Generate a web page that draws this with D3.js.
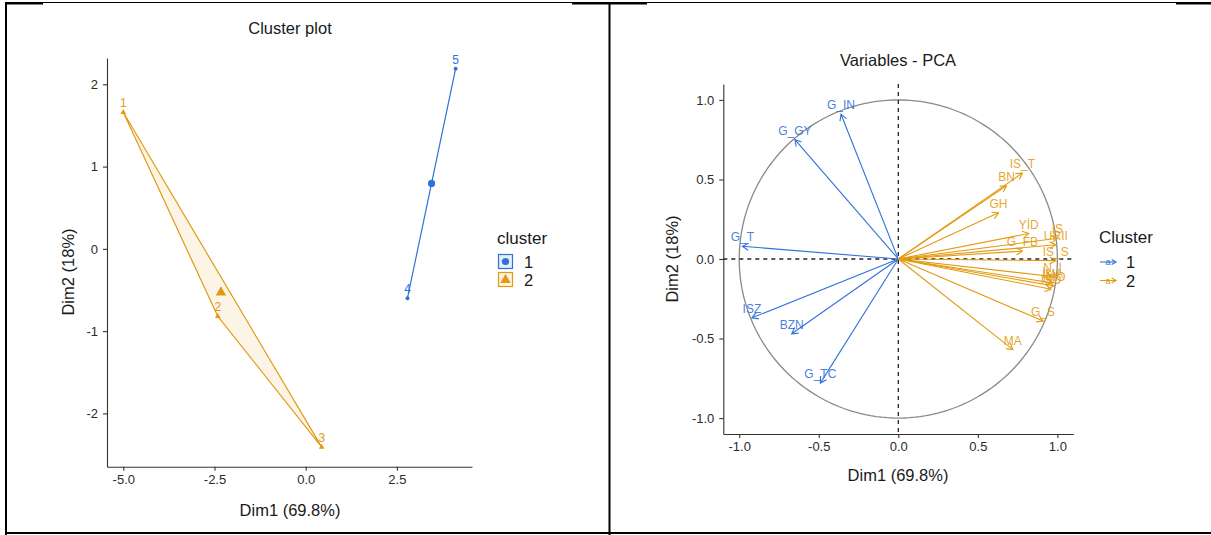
<!DOCTYPE html>
<html>
<head>
<meta charset="utf-8">
<script src="https://cdn.jsdelivr.net/npm/d3@7"></script>
<style>
  html, body { margin: 0; padding: 0; background: #fff; }
  svg { display: block; }
  text { font-family: "Liberation Sans", Arial, Helvetica, sans-serif; }
</style>
</head>
<body>
<svg id="fig" width="1211" height="535"></svg>
<script>
// ---- Cluster plot: individuals on the first two principal components ----
const obsIds     = ["1", "2", "3", "4", "5"];
const obsDim1    = [-5.00, -2.41, 0.44, 2.79, 4.11];
const obsDim2    = [1.66, -0.82, -2.41, -0.60, 2.19];
const obsCluster = [2, 2, 2, 1, 1];

const clusterTicksX = [-5.0, -2.5, 0.0, 2.5];
const clusterTicksY = [-2, -1, 0, 1, 2];

// ---- Variables - PCA: correlation circle ----
const varNames   = ["G_IN", "G_GY", "G_T", "ISZ", "BZN", "G_TC",
                    "IS_T", "BN", "GH", "YİD", "G_FB", "IS", "URII", "IS_S",
                    "N_I", "İMA", "IMO", "ISO", "G_S", "MA"];
const varDim1    = [-0.36, -0.65, -0.98, -0.92, -0.67, -0.49,
                    0.78, 0.68, 0.63, 0.82, 0.78, 1.00, 0.99, 0.99,
                    0.97, 0.97, 0.98, 0.96, 0.91, 0.72];
const varDim2    = [0.91, 0.75, 0.08, -0.37, -0.47, -0.78,
                    0.54, 0.46, 0.29, 0.16, 0.05, 0.13, 0.09, -0.01,
                    -0.11, -0.15, -0.17, -0.19, -0.39, -0.57];
const varCluster = [1, 1, 1, 1, 1, 1,
                    2, 2, 2, 2, 2, 2, 2, 2,
                    2, 2, 2, 2, 2, 2];

const pcaTicks = [-1.0, -0.5, 0.0, 0.5, 1.0];
const clusterLevels = [1, 2];

const colors = { 1: "#3071DA", 2: "#E39A12" };
const ink = "#1a1a1a";
const fmt1 = v => d3.format(".1f")(v).replace("\u2212", "-");
const fmt0 = v => d3.format("d")(v).replace("\u2212", "-");

const svg = d3.select("#fig");
svg.append("rect").attr("width", 1211).attr("height", 535).attr("fill", "#fff");

// ---------- table frame ----------
const frame = svg.append("g");
frame.append("line").attr("x1", 5).attr("x2", 1211).attr("y1", 2.5).attr("y2", 2.5)
  .attr("stroke", "#000").attr("stroke-width", 1.2);
[[5, 43], [572, 647], [1176, 1211]].forEach(([a, b]) => {
  frame.append("line").attr("x1", a).attr("x2", b).attr("y1", 3.3).attr("y2", 3.3)
    .attr("stroke", "#000").attr("stroke-width", 2.6);
});
frame.append("line").attr("x1", 6).attr("x2", 6).attr("y1", 2).attr("y2", 535)
  .attr("stroke", "#000").attr("stroke-width", 2);
frame.append("line").attr("x1", 609.5).attr("x2", 609.5).attr("y1", 2).attr("y2", 535)
  .attr("stroke", "#000").attr("stroke-width", 2);
frame.append("line").attr("x1", 5).attr("x2", 1211).attr("y1", 533).attr("y2", 533)
  .attr("stroke", "#000").attr("stroke-width", 2);

// ---------- helper: classic axis ----------
function styleAxis(g) {
  g.select(".domain").attr("stroke", "#333").attr("stroke-width", 1.1);
  g.selectAll(".tick line").attr("stroke", "#333").attr("stroke-width", 1.1);
  g.selectAll(".tick text").attr("fill", "#2b2b2b").attr("font-size", 13)
    .attr("font-family", "Liberation Sans, Arial, sans-serif");
}

// =====================================================================
// Left panel: cluster plot
// =====================================================================
const L = svg.append("g");
const xL = d3.scaleLinear().domain([-5.447, 4.559]).range([107, 472]);
const yL = d3.scaleLinear().domain([-2.648, 2.32]).range([466.7, 58]);

L.append("text").attr("x", 290).attr("y", 34).attr("text-anchor", "middle")
  .attr("font-size", 16.5).attr("fill", ink).text("Cluster plot");

const obs = obsIds.map((id, i) => ({ id, x: obsDim1[i], y: obsDim2[i], c: obsCluster[i] }));

// hulls
clusterLevels.forEach(c => {
  const pts = obs.filter(d => d.c === c).map(d => [xL(d.x), yL(d.y)]);
  const hull = pts.length >= 3 ? d3.polygonHull(pts) : pts;
  L.append("path")
    .attr("d", "M" + hull.map(p => p.join(",")).join("L") + "Z")
    .attr("fill", colors[c]).attr("fill-opacity", pts.length >= 3 ? 0.1 : 0)
    .attr("stroke", colors[c]).attr("stroke-width", 1.2).attr("stroke-linejoin", "round");
});

const tri = d3.symbol().type(d3.symbolTriangle);
function drawMarker(g, c, x, y, big) {
  if (c === 1) {
    g.append("circle").attr("cx", x).attr("cy", y).attr("r", big ? 3.6 : 2)
      .attr("fill", colors[c]);
  } else {
    g.append("path").attr("d", tri.size(big ? 48 : 14)())
      .attr("transform", `translate(${x},${y + (big ? 0.5 : 0)})`).attr("fill", colors[c]);
  }
}

obs.forEach(d => {
  drawMarker(L, d.c, xL(d.x), yL(d.y), false);
  L.append("text").attr("x", xL(d.x)).attr("y", yL(d.y) - 5)
    .attr("text-anchor", "middle").attr("font-size", 12).attr("fill", colors[d.c]).text(d.id);
});

// cluster centres
clusterLevels.forEach(c => {
  const members = obs.filter(d => d.c === c);
  const cx = d3.mean(members, d => d.x), cy = d3.mean(members, d => d.y);
  drawMarker(L, c, xL(cx), yL(cy), true);
});

const axLx = L.append("g").attr("transform", "translate(0,466.7)")
  .call(d3.axisBottom(xL).tickValues(clusterTicksX).tickFormat(fmt1).tickSize(4).tickSizeOuter(0).tickPadding(4));
styleAxis(axLx);
const axLy = L.append("g").attr("transform", "translate(107,0)")
  .call(d3.axisLeft(yL).tickValues(clusterTicksY).tickFormat(fmt0).tickSize(4).tickSizeOuter(0).tickPadding(5));
styleAxis(axLy);

L.append("text").attr("x", 290).attr("y", 516).attr("text-anchor", "middle")
  .attr("font-size", 16.5).attr("fill", ink).text("Dim1 (69.8%)");
L.append("text").attr("transform", "translate(74,272) rotate(-90)").attr("text-anchor", "middle")
  .attr("font-size", 16.5).attr("fill", ink).text("Dim2 (18%)");

// legend
L.append("text").attr("x", 497).attr("y", 244).attr("font-size", 17).attr("fill", ink).text("cluster");
clusterLevels.forEach((c, i) => {
  const ky = 254.5 + i * 18;
  L.append("rect").attr("x", 498.5).attr("y", ky).attr("width", 14).attr("height", 14)
    .attr("fill", colors[c]).attr("fill-opacity", 0.12).attr("stroke", colors[c]).attr("stroke-width", 1.2);
  drawMarker(L, c, 505.5, ky + 7, true);
  L.append("text").attr("x", 524).attr("y", ky + 13).attr("font-size", 16.5).attr("fill", ink).text(c);
});

// =====================================================================
// Right panel: variables correlation circle
// =====================================================================
const R = svg.append("g");
const xR = d3.scaleLinear().domain([-1.1, 1.1]).range([723.3, 1073.3]);
const yR = d3.scaleLinear().domain([-1.1, 1.1]).range([434, 84]);

R.append("text").attr("x", 898).attr("y", 66).attr("text-anchor", "middle")
  .attr("font-size", 16.5).attr("fill", ink).text("Variables - PCA");

// unit circle
const circ = d3.range(0, 361, 2).map(a => [Math.cos(a * Math.PI / 180), Math.sin(a * Math.PI / 180)]);
R.append("path")
  .attr("d", d3.line().x(d => xR(d[0])).y(d => yR(d[1]))(circ))
  .attr("fill", "none").attr("stroke", "#8a8a8a").attr("stroke-width", 1.3);

// reference lines
R.append("line").attr("x1", xR(-1.1)).attr("x2", xR(1.1)).attr("y1", yR(0)).attr("y2", yR(0))
  .attr("stroke", "#222").attr("stroke-width", 1.3).attr("stroke-dasharray", "4,4");
R.append("line").attr("x1", xR(0)).attr("x2", xR(0)).attr("y1", yR(1.1)).attr("y2", yR(-1.1))
  .attr("stroke", "#222").attr("stroke-width", 1.3).attr("stroke-dasharray", "4,4");

// arrows
function arrow(g, x0, y0, x1, y1, col, head) {
  g.append("line").attr("x1", x0).attr("y1", y0).attr("x2", x1).attr("y2", y1)
    .attr("stroke", col).attr("stroke-width", 1.1);
  const ang = Math.atan2(y1 - y0, x1 - x0);
  const a1 = ang + Math.PI - Math.PI / 6, a2 = ang + Math.PI + Math.PI / 6;
  g.append("path")
    .attr("d", `M${x1 + head * Math.cos(a1)},${y1 + head * Math.sin(a1)}L${x1},${y1}L${x1 + head * Math.cos(a2)},${y1 + head * Math.sin(a2)}`)
    .attr("fill", "none").attr("stroke", col).attr("stroke-width", 1.1);
}

const vars = varNames.map((n, i) => ({ n, x: varDim1[i], y: varDim2[i], c: varCluster[i] }));
vars.forEach(d => arrow(R, xR(0), yR(0), xR(d.x), yR(d.y), colors[d.c], 7));
vars.forEach(d => {
  R.append("text").attr("x", xR(d.x)).attr("y", yR(d.y) - 5)
    .attr("text-anchor", "middle").attr("font-size", 12).attr("fill", colors[d.c])
    .attr("fill-opacity", 0.9).text(d.n);
});

const axRx = R.append("g").attr("transform", "translate(0,434)")
  .call(d3.axisBottom(xR).tickValues(pcaTicks).tickFormat(fmt1).tickSize(4).tickSizeOuter(0).tickPadding(4));
styleAxis(axRx);
const axRy = R.append("g").attr("transform", "translate(723.3,0)")
  .call(d3.axisLeft(yR).tickValues(pcaTicks).tickFormat(fmt1).tickSize(4).tickSizeOuter(0).tickPadding(5));
styleAxis(axRy);

R.append("text").attr("x", 898).attr("y", 481).attr("text-anchor", "middle")
  .attr("font-size", 16.5).attr("fill", ink).text("Dim1 (69.8%)");
R.append("text").attr("transform", "translate(678,259) rotate(-90)").attr("text-anchor", "middle")
  .attr("font-size", 16.5).attr("fill", ink).text("Dim2 (18%)");

// legend
R.append("text").attr("x", 1099).attr("y", 243).attr("font-size", 17).attr("fill", ink).text("Cluster");
clusterLevels.forEach((c, i) => {
  const ky = 262 + i * 18.5;
  arrow(R, 1100, ky, 1116, ky, colors[c], 5);
  R.append("text").attr("x", 1108).attr("y", ky + 3).attr("text-anchor", "middle")
    .attr("font-size", 9).attr("fill", colors[c]).text("a");
  R.append("text").attr("x", 1126).attr("y", ky + 6).attr("font-size", 16.5).attr("fill", ink).text(c);
});
</script>
</body>
</html>
